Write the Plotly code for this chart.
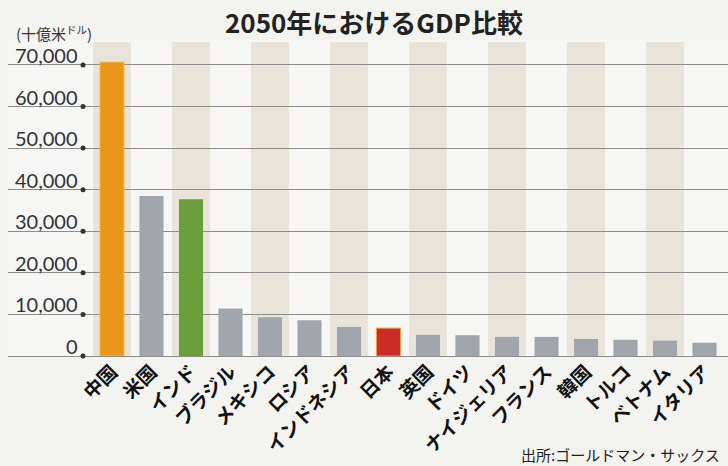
import plotly.graph_objects as go

countries = ["中国", "米国", "インド", "ブラジル", "メキシコ", "ロシア", "インドネシア", "日本",
             "英国", "ドイツ", "ナイジェリア", "フランス", "韓国", "トルコ", "ベトナム", "イタリア"]
gdp_2050 = [70700, 38500, 37700, 11400, 9300, 8600, 7000, 6700,
            5100, 5000, 4600, 4600, 4100, 3900, 3700, 3200]
y_ticks = [0, 10000, 20000, 30000, 40000, 50000, 60000, 70000]
y_tick_labels = ["0", "10,000", "20,000", "30,000", "40,000", "50,000", "60,000", "70,000"]

title = "2050年におけるGDP比較"
unit_label = "(十億米<sup>ドル</sup>)"
source = "出所:ゴールドマン・サックス"

GRAY = "#a1a6ac"
bar_colors = [GRAY] * len(countries)
bar_colors[0] = "#e9961c"
bar_colors[2] = "#6b9e3b"
bar_colors[7] = "#cc2b27"
line_colors = ["rgba(0,0,0,0)"] * len(countries)
line_colors[0] = "#f4c040"
line_colors[7] = "#f0a040"

W, H = 728, 466
ML, MR, MT, MB = 8, 0, 40, 110
pitch = 39.5
first_center = 112
XMIN = -(first_center - ML) / pitch
XMAX = (W - MR - ML) / pitch + XMIN
YMAX = 76000
STRIPE_TOP = 75500

x_pos = list(range(len(countries)))

fig = go.Figure()
fig.add_trace(go.Bar(
    x=x_pos, y=gdp_2050, width=0.61,
    marker=dict(color=bar_colors, line=dict(color=line_colors, width=1)),
    hoverinfo="x+y", showlegend=False,
))

# tick dots
dot_x = XMIN + (83 - ML) / pitch
fig.add_trace(go.Scatter(
    x=[dot_x] * len(y_ticks), y=y_ticks, mode="markers",
    marker=dict(color="#333333", size=5), showlegend=False, hoverinfo="skip",
    cliponaxis=False,
))

shapes = []
for i in x_pos:
    if i % 2 == 0:
        shapes.append(dict(type="rect", xref="x", yref="y", x0=i - 0.48, x1=i + 0.48,
                           y0=0, y1=STRIPE_TOP, fillcolor="#e8e4d9", line=dict(width=0),
                           layer="below"))

annotations = []
label_x = XMIN + (80 - ML) / pitch
for v, t in zip(y_ticks, y_tick_labels):
    annotations.append(dict(x=label_x, y=v, xref="x", yref="y", text=t, showarrow=False,
                            xanchor="right", yanchor="middle", yshift=10,
                            font=dict(family="Lato, Open Sans, sans-serif", size=20, color="#333333")))
annotations.append(dict(x=14 / W, y=1 - 33 / H, xref="paper", yref="paper", text=unit_label,
                        showarrow=False, xanchor="left", yanchor="middle",
                        font=dict(family="Noto Sans CJK JP", size=15, color="#333333")))
annotations.append(dict(x=374 / W, y=1 - 22 / H, xref="paper", yref="paper", text="<b>" + title + "</b>",
                        showarrow=False, xanchor="center", yanchor="middle",
                        font=dict(family="Noto Sans CJK JP", size=26, color="#222222")))
annotations.append(dict(x=722 / W, y=1 - 455 / H, xref="paper", yref="paper", text=source,
                        showarrow=False, xanchor="right", yanchor="middle",
                        font=dict(family="Noto Sans CJK JP", size=15, color="#222222")))

fig.update_layout(
    width=W, height=H,
    margin=dict(l=ML, r=MR, t=MT, b=MB),
    paper_bgcolor="#f3f3f0",
    plot_bgcolor="#f6f6f4",
    shapes=shapes,
    annotations=annotations,
    bargap=0.3,
    xaxis=dict(range=[XMIN, XMAX], tickvals=x_pos, ticktext=[f"<b>{c}</b>" for c in countries],
               tickangle=-45, showgrid=False, zeroline=False, showline=False, ticks="",
               tickfont=dict(family="Noto Sans CJK JP", size=19, color="#111111"), fixedrange=True),
    yaxis=dict(range=[0, YMAX], showticklabels=False, showgrid=True, gridcolor="#8c8c8c",
               gridwidth=1, tickvals=y_ticks, zeroline=True, zerolinecolor="#8c8c8c",
               zerolinewidth=1, showline=False, ticks="", fixedrange=True),
)

# annotations given in full-figure pixel fractions: map them to plot-area paper coords
for a in fig.layout.annotations:
    if a.xref == "paper":
        px_x = a.x * W
        px_y = (1 - a.y) * H
        a.x = (px_x - ML) / (W - ML - MR)
        a.y = 1 - (px_y - MT) / (H - MT - MB)

fig.write_html("out.html")
